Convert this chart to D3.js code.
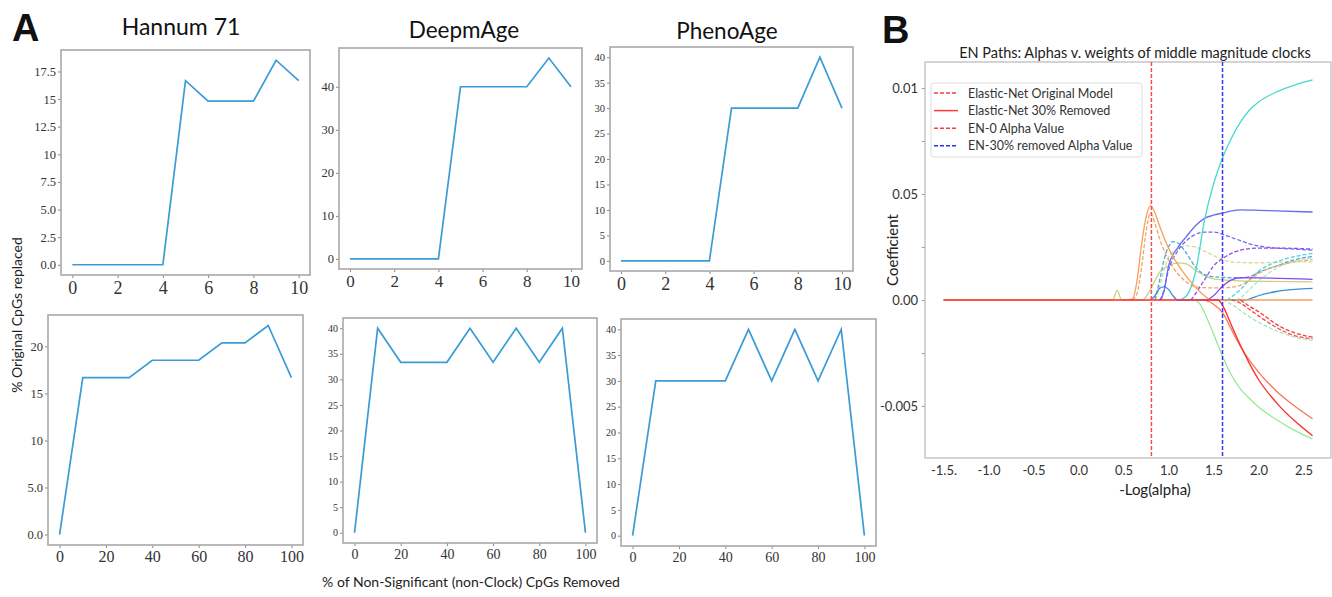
<!DOCTYPE html>
<html>
<head>
<meta charset="utf-8">
<script src="https://cdn.jsdelivr.net/npm/d3@7"></script>
<style>
  body { margin: 0; background: #fff; }
  svg { display: block; font-family: Lato, "Open Sans", sans-serif; }
  .serif text { font-family: "Liberation Serif", "DejaVu Serif", serif; fill: #333; }
  .sans text { font-family: Lato, sans-serif; fill: #333; }
</style>
</head>
<body>
<svg id="fig" width="1332" height="597"></svg>
<script>
// ---- panel A data ----
var stepsFine = [0, 1, 2, 3, 4, 5, 6, 7, 8, 9, 10];
var stepsCoarse = [0, 10, 20, 30, 40, 50, 60, 70, 80, 90, 100];

var hannumFine   = [0, 0, 0, 0, 0, 16.67, 14.81, 14.81, 14.81, 18.52, 16.67];
var deepFine     = [0, 0, 0, 0, 0, 40, 40, 40, 40, 46.67, 40];
var phenoFine    = [0, 0, 0, 0, 0, 30, 30, 30, 30, 40, 30];
var hannumCoarse = [0, 16.67, 16.67, 16.67, 18.52, 18.52, 18.52, 20.37, 20.37, 22.22, 16.67];
var deepCoarse   = [0, 40, 33.33, 33.33, 33.33, 40, 33.33, 40, 33.33, 40, 0];
var phenoCoarse  = [0, 30, 30, 30, 30, 40, 30, 40, 30, 40, 0];

var fineXTicks = [0, 2, 4, 6, 8, 10];
var coarseXTicks = [0, 20, 40, 60, 80, 100];
var hannumFineYTicks = [0, 2.5, 5, 7.5, 10, 12.5, 15, 17.5];
var hannumFineYLabels = ["0.0", "2.5", "5.0", "7.5", "10", "12.5", "15", "17.5"];
var hannumCoarseYTicks = [0, 5, 10, 15, 20];
var hannumCoarseYLabels = ["0.0", "5.0", "10", "15", "20"];
var deepFineYTicks = [0, 10, 20, 30, 40];
var fiveYTicks = [0, 5, 10, 15, 20, 25, 30, 35, 40];

// ---- panel B data: -log(alpha) vs coefficient (x 1e-3) ----
var pathOrange = [[0.55,0],[0.6,0.05],[0.65,0.9],[0.7,2.6],[0.75,3.9],[0.8,4.45],[0.85,4.1],[0.9,3.5],[1.0,2.45],[1.1,1.7],[1.2,1.1],[1.3,0.6],[1.4,0.2],[1.47,0],[2.6,0]];
var pathOrangeDash = [[0.6,0],[0.65,0.3],[0.7,1.5],[0.75,3.2],[0.8,4.1],[0.85,3.6],[0.9,2.9],[1.0,1.9],[1.1,1.25],[1.2,0.85],[1.3,0.62],[1.4,0.58],[1.5,0.57],[1.6,0.57],[1.7,0.6],[1.8,0.7],[1.9,0.95],[2.0,1.25],[2.2,1.6],[2.4,1.8],[2.6,1.9]];
var pathKhaki = [[-1.5,0],[0.38,0],[0.43,0.45],[0.48,0],[0.72,0],[0.75,0.15],[0.8,0.5],[0.9,1.3],[1.0,1.6],[1.1,1.75],[1.2,1.7],[1.3,1.4],[1.4,1.15],[1.5,1.0],[1.6,0.95],[1.8,0.9],[2.0,0.88],[2.6,0.85]];
var pathKhakiDash = [[0.85,0],[0.9,0.6],[0.95,1.4],[1.0,2.0],[1.1,2.4],[1.2,2.55],[1.3,2.5],[1.4,2.3],[1.5,2.1],[1.6,1.9],[1.7,1.8],[1.8,1.77],[2.0,1.75],[2.2,1.78],[2.6,1.8]];
var pathLightBlueDash = [[0.85,0],[0.9,0.9],[0.95,1.9],[1.0,2.5],[1.05,2.75],[1.1,2.7],[1.2,2.2],[1.3,1.55],[1.4,1.2],[1.5,1.1],[1.6,1.07],[1.7,1.05],[1.8,1.05],[1.9,1.1],[2.0,1.3],[2.2,1.6],[2.4,1.9],[2.6,2.05]];
var pathBlue = [[0.8,0],[0.85,0.2],[0.9,0.55],[0.95,0.62],[1.0,0.5],[1.05,0.2],[1.1,0],[1.85,0],[1.9,0.05],[2.0,0.2],[2.2,0.4],[2.4,0.5],[2.6,0.55]];
var pathSlate = [[0.9,0],[0.95,0.4],[1.0,1.6],[1.1,2.45],[1.2,3.0],[1.3,3.5],[1.4,3.85],[1.5,4.0],[1.6,4.1],[1.7,4.2],[1.8,4.25],[2.0,4.23],[2.2,4.2],[2.6,4.15]];
var pathSlateDash = [[0.92,0],[0.95,0.5],[1.0,1.4],[1.1,2.3],[1.2,2.8],[1.3,3.1],[1.4,3.2],[1.5,3.2],[1.6,3.1],[1.7,2.95],[1.8,2.8],[1.9,2.65],[2.0,2.55],[2.2,2.45],[2.4,2.4],[2.6,2.35]];
var pathCyan = [[1.12,0],[1.2,0.2],[1.3,1.32],[1.4,3.77],[1.5,5.47],[1.6,6.7],[1.7,7.64],[1.8,8.4],[1.9,8.96],[2.0,9.34],[2.2,9.81],[2.4,10.14],[2.6,10.38]];
var pathCyanDash = [[1.65,0],[1.7,0.15],[1.8,0.5],[1.9,0.95],[2.0,1.35],[2.2,1.8],[2.4,2.05],[2.6,2.2]];
var pathMintDash = [[1.75,0],[1.8,0.1],[1.9,0.5],[2.0,0.9],[2.2,1.5],[2.4,1.85],[2.6,2.0]];
var pathVioletDash = [[1.25,0],[1.3,0.3],[1.4,0.95],[1.5,1.6],[1.6,1.95],[1.7,2.2],[1.8,2.35],[2.0,2.45],[2.2,2.45],[2.6,2.4]];
var pathViolet = [[1.43,0],[1.5,0.2],[1.6,0.65],[1.7,0.95],[1.8,1.05],[2.0,1.04],[2.6,0.97]];
var pathGreen = [[1.3,0],[1.35,-0.2],[1.4,-0.6],[1.5,-1.6],[1.6,-2.65],[1.7,-3.55],[1.8,-4.2],[1.9,-4.65],[2.0,-5.05],[2.2,-5.65],[2.4,-6.15],[2.6,-6.55]];
var pathCoral = [[1.4,0],[1.5,-0.2],[1.6,-0.6],[1.7,-1.4],[1.8,-2.2],[1.9,-2.85],[2.0,-3.4],[2.2,-4.3],[2.4,-5.0],[2.6,-5.6]];
var pathRed = [[-1.5,0],[1.55,0],[1.6,-0.25],[1.7,-1.2],[1.8,-2.15],[1.9,-3.0],[2.0,-3.75],[2.2,-4.85],[2.4,-5.7],[2.6,-6.4]];
var pathRedDash1 = [[1.8,0],[1.9,-0.3],[2.0,-0.55],[2.1,-0.85],[2.2,-1.15],[2.4,-1.55],[2.6,-1.75]];
var pathRedDash2 = [[1.7,0],[1.8,-0.15],[1.9,-0.45],[2.0,-0.75],[2.2,-1.3],[2.4,-1.68],[2.6,-1.82]];
var pathMintNegDash = [[1.6,0],[1.7,-0.2],[1.8,-0.5],[1.9,-0.8],[2.0,-1.05],[2.2,-1.45],[2.4,-1.75],[2.6,-1.9]];

var alphaOriginal = 0.81;
var alphaRemoved = 1.6;
var bXTicks = [-1.5, -1.0, -0.5, 0.0, 0.5, 1.0, 1.5, 2.0, 2.5];
var bXLabels = ["-1.5.", "-1.0", "-0.5", "0.0", "0.5", "1.0", "1.5", "2.0", "2.5"];
var bYTicks = [-5, -2.5, 0, 2.5, 5, 7.5, 10];
var bYLabels = ["-0.005", "", "0.00", "", "0.05", "", "0.01"];
var legendNames = ["Elastic-Net Original Model", "Elastic-Net 30% Removed", "EN-0 Alpha Value", "EN-30% removed Alpha Value"];

var svg = d3.select("#fig");

function padded(values) {
  var ext = d3.extent(values), r = ext[1] - ext[0];
  return [ext[0] - 0.05 * r, ext[1] + 0.05 * r];
}

var panelsA = [
  {xs: stepsFine, ys: hannumFine, box: [61, 50, 310, 275], xt: fineXTicks, yt: hannumFineYTicks, yl: hannumFineYLabels, xf: 18, yf: 12.5},
  {xs: stepsFine, ys: deepFine, box: [339, 48, 582, 269], xt: fineXTicks, yt: deepFineYTicks, yl: null, xf: 17, yf: 12.5},
  {xs: stepsFine, ys: phenoFine, box: [610, 47, 853, 271], xt: fineXTicks, yt: fiveYTicks, yl: null, xf: 18, yf: 10.5},
  {xs: stepsCoarse, ys: hannumCoarse, box: [48, 315, 303, 545], xt: coarseXTicks, yt: hannumCoarseYTicks, yl: hannumCoarseYLabels, xf: 16, yf: 12.5},
  {xs: stepsCoarse, ys: deepCoarse, box: [343, 318, 597, 543], xt: coarseXTicks, yt: fiveYTicks, yl: null, xf: 14, yf: 10},
  {xs: stepsCoarse, ys: phenoCoarse, box: [621, 319, 876, 546], xt: coarseXTicks, yt: fiveYTicks, yl: null, xf: 14, yf: 10}
];

panelsA.forEach(function(p) {
  var b = p.box;
  var x = d3.scaleLinear().domain(padded(p.xs)).range([b[0], b[2]]);
  var y = d3.scaleLinear().domain(padded(p.ys)).range([b[3], b[1]]);
  var g = svg.append("g").attr("class", "serif");

  var xa = g.append("g").attr("transform", "translate(0," + b[3] + ")")
    .call(d3.axisBottom(x).tickValues(p.xt).tickSize(3).tickPadding(3).tickFormat(d3.format("d")));
  xa.selectAll("text").style("font-size", p.xf + "px");
  var ya = g.append("g").attr("transform", "translate(" + b[0] + ",0)")
    .call(d3.axisLeft(y).tickValues(p.yt).tickSize(3).tickPadding(2)
      .tickFormat(function(d, i) { return p.yl ? p.yl[i] : d; }));
  ya.selectAll("text").style("font-size", p.yf + "px");
  g.selectAll(".domain").remove();
  g.selectAll(".tick line").attr("stroke", "#888");

  g.append("rect").attr("x", b[0]).attr("y", b[1])
    .attr("width", b[2] - b[0]).attr("height", b[3] - b[1])
    .attr("fill", "none").attr("stroke", "#a8a8a8").attr("stroke-width", 1.6);

  var line = d3.line().x(function(d, i) { return x(p.xs[i]); }).y(function(d) { return y(d); });
  g.append("path").datum(p.ys).attr("d", line)
    .attr("fill", "none").attr("stroke", "#3b9bd6").attr("stroke-width", 1.7);
});

// panel A texts
svg.append("text").attr("x", 12).attr("y", 41).text("A")
  .style("font-family", "Liberation Sans, Arial, sans-serif").style("font-weight", "bold").style("font-size", "38px").attr("fill", "#111");
svg.append("text").attr("x", 181).attr("y", 35).attr("text-anchor", "middle").text("Hannum 71")
  .style("font-size", "23px").attr("fill", "#111");
svg.append("text").attr("x", 464).attr("y", 38).attr("text-anchor", "middle").text("DeepmAge")
  .style("font-size", "22.5px").attr("fill", "#111");
svg.append("text").attr("x", 727).attr("y", 39).attr("text-anchor", "middle").text("PhenoAge")
  .style("font-size", "22.5px").attr("fill", "#111");
svg.append("text").attr("transform", "translate(22,315) rotate(-90)").attr("text-anchor", "middle")
  .text("% Original CpGs replaced").style("font-size", "14px").attr("fill", "#222");
svg.append("text").attr("x", 471).attr("y", 587).attr("text-anchor", "middle")
  .text("% of Non-Significant (non-Clock) CpGs Removed").style("font-size", "14px").attr("fill", "#222");

// ---- panel B ----
var bBox = [925, 62, 1331, 458];
var xB = d3.scaleLinear().domain([-1.705, 2.805]).range([bBox[0], bBox[2]]);
var yB = d3.scaleLinear().domain([-7.453, 11.226]).range([bBox[3], bBox[1]]);
var gB = svg.append("g").attr("class", "sans");

gB.append("g").attr("transform", "translate(0," + bBox[3] + ")")
  .call(d3.axisBottom(xB).tickValues(bXTicks).tickSize(0).tickPadding(8)
    .tickFormat(function(d, i) { return bXLabels[i]; }))
  .selectAll("text").style("font-size", "13px");
gB.append("g").attr("transform", "translate(" + bBox[0] + ",0)")
  .call(d3.axisLeft(yB).tickValues(bYTicks).tickSize(3).tickPadding(4)
    .tickFormat(function(d, i) { return bYLabels[i]; }))
  .selectAll("text").style("font-size", "13px");
gB.selectAll(".domain").remove();
gB.selectAll(".tick line").attr("stroke", "#999");

gB.append("rect").attr("x", bBox[0]).attr("y", bBox[1])
  .attr("width", bBox[2] - bBox[0]).attr("height", bBox[3] - bBox[1])
  .attr("fill", "none").attr("stroke", "#b8b8b8").attr("stroke-width", 1.2);

var pathsB = [
  {d: pathKhaki, c: "#c6d47a", dash: null},
  {d: pathKhakiDash, c: "#d2da92", dash: "4,2"},
  {d: pathMintDash, c: "#a6eec4", dash: "4,2"},
  {d: pathMintNegDash, c: "#a6e8b4", dash: "4,2"},
  {d: pathCyanDash, c: "#4cd4e0", dash: "4,2"},
  {d: pathLightBlueDash, c: "#4ea6ea", dash: "4,2"},
  {d: pathOrangeDash, c: "#f5a460", dash: "4,2"},
  {d: pathBlue, c: "#3a8fdc", dash: null},
  {d: pathSlateDash, c: "#6a6af2", dash: "4,2"},
  {d: pathVioletDash, c: "#9048ef", dash: "4,2"},
  {d: pathViolet, c: "#8f45ef", dash: null},
  {d: pathSlate, c: "#6a6af2", dash: null},
  {d: pathCyan, c: "#45d8d0", dash: null},
  {d: pathGreen, c: "#98e898", dash: null},
  {d: pathOrange, c: "#f5a05c", dash: null},
  {d: pathCoral, c: "#f2785a", dash: null},
  {d: pathRedDash1, c: "#f04040", dash: "4,2"},
  {d: pathRedDash2, c: "#f04a4a", dash: "4,2"},
  {d: pathRed, c: "#ff2a2a", dash: null}
];

var lineB = d3.line().curve(d3.curveMonotoneX)
  .x(function(d) { return xB(d[0]); }).y(function(d) { return yB(d[1]); });

gB.selectAll("path.coef").data(pathsB).enter().append("path")
  .attr("class", "coef")
  .attr("d", function(p) { return lineB(p.d); })
  .attr("fill", "none")
  .attr("stroke", function(p) { return p.c; })
  .attr("stroke-width", 1.3)
  .attr("stroke-dasharray", function(p) { return p.dash; });

// alpha markers
[[alphaOriginal, "#ff4a4a"], [alphaRemoved, "#3636ff"]].forEach(function(a) {
  gB.append("line").attr("x1", xB(a[0])).attr("x2", xB(a[0]))
    .attr("y1", bBox[1]).attr("y2", bBox[3])
    .attr("stroke", a[1]).attr("stroke-width", 1.5).attr("stroke-dasharray", "4,2");
});

// legend
var lg = gB.append("g");
lg.append("rect").attr("x", 931).attr("y", 83).attr("width", 211).attr("height", 74).attr("rx", 3)
  .attr("fill", "#fff").attr("fill-opacity", 0.85).attr("stroke", "#dcdcdc");
var legendStyle = [["#ff3b3b", "4,2"], ["#ff3b3b", null], ["#ff3b3b", "4,2"], ["#3030f0", "4,2"]];
legendNames.forEach(function(n, i) {
  var yy = 93 + i * 17.6;
  lg.append("line").attr("x1", 934).attr("x2", 958).attr("y1", yy).attr("y2", yy)
    .attr("stroke", legendStyle[i][0]).attr("stroke-width", 1.5).attr("stroke-dasharray", legendStyle[i][1]);
  lg.append("text").attr("x", 968).attr("y", yy + 4.5).text(n).style("font-size", "12.5px");
});

svg.append("text").attr("x", 882).attr("y", 43).text("B")
  .style("font-family", "Liberation Sans, Arial, sans-serif").style("font-weight", "bold").style("font-size", "38px").attr("fill", "#111");
svg.append("text").attr("x", 1135).attr("y", 58).attr("text-anchor", "middle")
  .text("EN Paths: Alphas v. weights of middle magnitude clocks").style("font-size", "14.5px").attr("fill", "#222");
svg.append("text").attr("x", 1155).attr("y", 495).attr("text-anchor", "middle")
  .text("-Log(alpha)").style("font-size", "15px").attr("fill", "#222");
svg.append("text").attr("transform", "translate(898,250) rotate(-90)").attr("text-anchor", "middle")
  .text("Coefficient").style("font-size", "15px").attr("fill", "#222");
</script>
</body>
</html>
